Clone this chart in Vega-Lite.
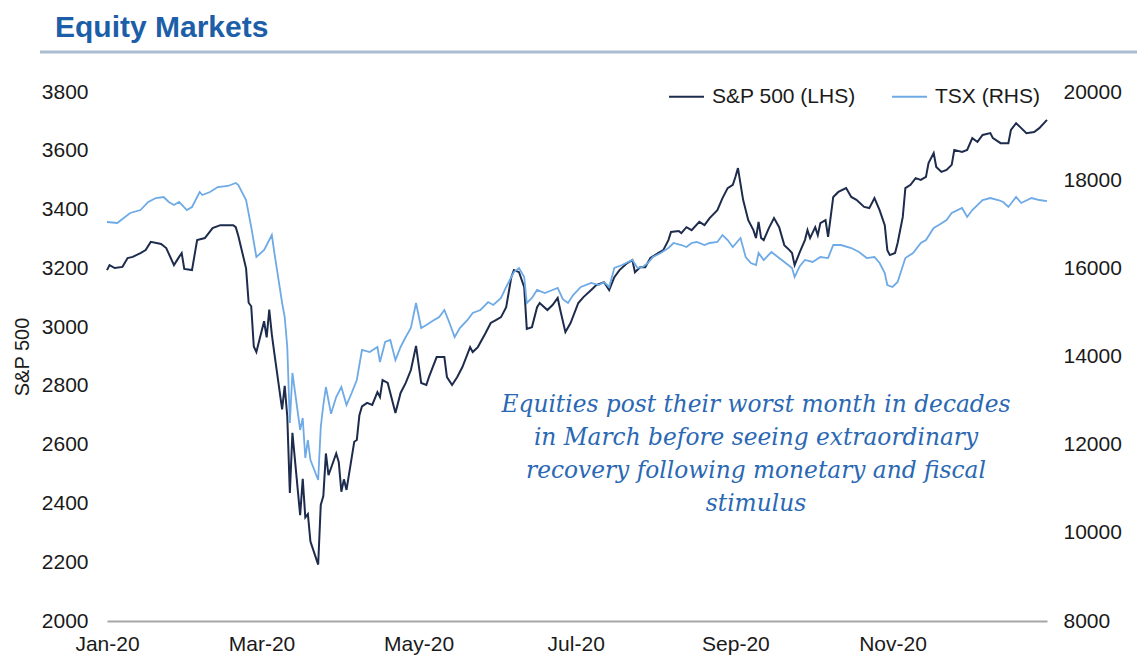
{
  "$schema": "https://vega.github.io/schema/vega-lite/v6.json",
  "width": 940,
  "height": 529,
  "autosize": {"type": "none"},
  "padding": {"left": 107, "top": 92, "right": 90, "bottom": 50},
  "background": "white",
  "config": {
    "view": {"stroke": null},
    "font": "Liberation Sans",
    "axis": {"grid": false, "ticks": false, "domain": false, "labelFont": "Liberation Sans", "labelFontSize": 21, "labelColor": "#1a1a1a", "titleFont": "Liberation Sans", "titleColor": "#1a1a1a"},
    "legend": {"labelFont": "Liberation Sans"}
  },
  "title": {"text": "Equity Markets", "anchor": "start", "frame": "group", "fontSize": 30, "fontWeight": "bold", "color": "#1c5fa8", "font": "Liberation Sans", "dx": -52, "offset": 8},
  "datasets": {
    "sp": [
      {"date":"2020-01-01","value":3194},{"date":"2020-01-02","value":3211},{"date":"2020-01-04","value":3201},{"date":"2020-01-07","value":3205},{"date":"2020-01-09","value":3235},{"date":"2020-01-11","value":3239},{"date":"2020-01-14","value":3252},{"date":"2020-01-16","value":3262},{"date":"2020-01-18","value":3290},{"date":"2020-01-22","value":3283},{"date":"2020-01-24","value":3269},{"date":"2020-01-27","value":3211},{"date":"2020-01-29","value":3239},{"date":"2020-01-30","value":3252},{"date":"2020-01-31","value":3198},{"date":"2020-02-03","value":3194},{"date":"2020-02-05","value":3296},{"date":"2020-02-08","value":3303},{"date":"2020-02-11","value":3337},{"date":"2020-02-14","value":3347},{"date":"2020-02-19","value":3347},{"date":"2020-02-20","value":3340},{"date":"2020-02-21","value":3310},{"date":"2020-02-24","value":3200},{"date":"2020-02-25","value":3083},{"date":"2020-02-26","value":3071},{"date":"2020-02-27","value":2934},{"date":"2020-02-28","value":2915},
      {"date":"2020-03-02","value":3020},{"date":"2020-03-03","value":2965},{"date":"2020-03-04","value":3060},{"date":"2020-03-05","value":2975},{"date":"2020-03-06","value":2910},{"date":"2020-03-09","value":2720},{"date":"2020-03-10","value":2800},{"date":"2020-03-11","value":2696},{"date":"2020-03-12","value":2436},{"date":"2020-03-13","value":2640},{"date":"2020-03-16","value":2360},{"date":"2020-03-17","value":2484},{"date":"2020-03-18","value":2353},{"date":"2020-03-19","value":2364},{"date":"2020-03-20","value":2270},{"date":"2020-03-23","value":2192},{"date":"2020-03-24","value":2395},{"date":"2020-03-25","value":2425},{"date":"2020-03-26","value":2570},{"date":"2020-03-27","value":2496},{"date":"2020-03-30","value":2570},{"date":"2020-03-31","value":2540},
      {"date":"2020-04-01","value":2440},{"date":"2020-04-02","value":2482},{"date":"2020-04-03","value":2446},{"date":"2020-04-06","value":2610},{"date":"2020-04-07","value":2616},{"date":"2020-04-08","value":2700},{"date":"2020-04-09","value":2730},{"date":"2020-04-11","value":2742},{"date":"2020-04-13","value":2735},{"date":"2020-04-15","value":2779},{"date":"2020-04-16","value":2762},{"date":"2020-04-17","value":2820},{"date":"2020-04-19","value":2810},{"date":"2020-04-22","value":2708},{"date":"2020-04-24","value":2776},{"date":"2020-04-26","value":2810},{"date":"2020-04-28","value":2854},{"date":"2020-04-30","value":2936},
      {"date":"2020-05-02","value":2810},{"date":"2020-05-04","value":2803},{"date":"2020-05-05","value":2830},{"date":"2020-05-08","value":2898},{"date":"2020-05-11","value":2898},{"date":"2020-05-12","value":2830},{"date":"2020-05-14","value":2803},{"date":"2020-05-16","value":2830},{"date":"2020-05-18","value":2864},{"date":"2020-05-21","value":2932},{"date":"2020-05-22","value":2915},{"date":"2020-05-24","value":2932},{"date":"2020-05-27","value":2980},{"date":"2020-05-29","value":3014},{"date":"2020-05-31","value":3024},
      {"date":"2020-06-02","value":3034},{"date":"2020-06-04","value":3068},{"date":"2020-06-06","value":3170},{"date":"2020-06-07","value":3194},{"date":"2020-06-09","value":3187},{"date":"2020-06-11","value":3136},{"date":"2020-06-12","value":2994},{"date":"2020-06-14","value":3000},{"date":"2020-06-16","value":3068},{"date":"2020-06-17","value":3082},{"date":"2020-06-20","value":3058},{"date":"2020-06-22","value":3075},{"date":"2020-06-24","value":3099},{"date":"2020-06-25","value":3058},{"date":"2020-06-27","value":2983},{"date":"2020-06-29","value":3014},
      {"date":"2020-07-02","value":3082},{"date":"2020-07-04","value":3102},{"date":"2020-07-07","value":3126},{"date":"2020-07-09","value":3143},{"date":"2020-07-12","value":3153},{"date":"2020-07-14","value":3126},{"date":"2020-07-16","value":3170},{"date":"2020-07-18","value":3194},{"date":"2020-07-21","value":3218},{"date":"2020-07-23","value":3228},{"date":"2020-07-24","value":3187},{"date":"2020-07-26","value":3204},{"date":"2020-07-28","value":3204},{"date":"2020-07-30","value":3235},
      {"date":"2020-08-02","value":3252},{"date":"2020-08-04","value":3262},{"date":"2020-08-06","value":3296},{"date":"2020-08-07","value":3324},{"date":"2020-08-10","value":3327},{"date":"2020-08-11","value":3320},{"date":"2020-08-13","value":3340},{"date":"2020-08-15","value":3330},{"date":"2020-08-18","value":3358},{"date":"2020-08-20","value":3347},{"date":"2020-08-22","value":3371},{"date":"2020-08-25","value":3398},{"date":"2020-08-27","value":3439},{"date":"2020-08-29","value":3473},{"date":"2020-08-31","value":3484},
      {"date":"2020-09-01","value":3511},{"date":"2020-09-02","value":3541},{"date":"2020-09-04","value":3433},{"date":"2020-09-06","value":3364},{"date":"2020-09-08","value":3330},{"date":"2020-09-09","value":3303},{"date":"2020-09-10","value":3358},{"date":"2020-09-11","value":3303},{"date":"2020-09-12","value":3296},{"date":"2020-09-14","value":3337},{"date":"2020-09-16","value":3371},{"date":"2020-09-18","value":3340},{"date":"2020-09-20","value":3279},{"date":"2020-09-22","value":3262},{"date":"2020-09-23","value":3252},{"date":"2020-09-24","value":3211},{"date":"2020-09-26","value":3255},{"date":"2020-09-28","value":3296},{"date":"2020-09-29","value":3330},{"date":"2020-09-30","value":3303},
      {"date":"2020-10-02","value":3340},{"date":"2020-10-03","value":3313},{"date":"2020-10-04","value":3354},{"date":"2020-10-06","value":3364},{"date":"2020-10-07","value":3307},{"date":"2020-10-09","value":3443},{"date":"2020-10-11","value":3460},{"date":"2020-10-14","value":3473},{"date":"2020-10-16","value":3443},{"date":"2020-10-18","value":3433},{"date":"2020-10-21","value":3409},{"date":"2020-10-23","value":3405},{"date":"2020-10-25","value":3439},{"date":"2020-10-27","value":3398},{"date":"2020-10-29","value":3347},{"date":"2020-10-30","value":3262},{"date":"2020-10-31","value":3245},
      {"date":"2020-11-02","value":3252},{"date":"2020-11-03","value":3286},{"date":"2020-11-05","value":3375},{"date":"2020-11-06","value":3473},{"date":"2020-11-08","value":3484},{"date":"2020-11-10","value":3507},{"date":"2020-11-12","value":3501},{"date":"2020-11-14","value":3511},{"date":"2020-11-15","value":3558},{"date":"2020-11-17","value":3592},{"date":"2020-11-18","value":3545},{"date":"2020-11-20","value":3528},{"date":"2020-11-22","value":3535},{"date":"2020-11-24","value":3552},{"date":"2020-11-25","value":3603},{"date":"2020-11-28","value":3596},{"date":"2020-11-30","value":3603},
      {"date":"2020-12-02","value":3643},{"date":"2020-12-04","value":3630},{"date":"2020-12-06","value":3654},{"date":"2020-12-09","value":3660},{"date":"2020-12-10","value":3643},{"date":"2020-12-13","value":3626},{"date":"2020-12-16","value":3626},{"date":"2020-12-17","value":3671},{"date":"2020-12-19","value":3694},{"date":"2020-12-21","value":3677},{"date":"2020-12-23","value":3660},{"date":"2020-12-26","value":3664},{"date":"2020-12-28","value":3677},{"date":"2020-12-31","value":3705}
    ],
    "tsx": [
      {"date":"2020-01-01","value":17051},{"date":"2020-01-05","value":17028},{"date":"2020-01-07","value":17119},{"date":"2020-01-10","value":17255},{"date":"2020-01-14","value":17323},{"date":"2020-01-17","value":17505},{"date":"2020-01-20","value":17595},{"date":"2020-01-23","value":17618},{"date":"2020-01-25","value":17505},{"date":"2020-01-27","value":17437},{"date":"2020-01-29","value":17505},{"date":"2020-02-01","value":17323},{"date":"2020-02-03","value":17391},{"date":"2020-02-06","value":17732},{"date":"2020-02-07","value":17664},{"date":"2020-02-10","value":17732},{"date":"2020-02-13","value":17845},{"date":"2020-02-17","value":17868},{"date":"2020-02-20","value":17936},{"date":"2020-02-21","value":17890},{"date":"2020-02-24","value":17550},{"date":"2020-02-26","value":16938},{"date":"2020-02-28","value":16257},
      {"date":"2020-03-02","value":16416},{"date":"2020-03-03","value":16529},{"date":"2020-03-05","value":16756},{"date":"2020-03-06","value":16348},{"date":"2020-03-09","value":15214},{"date":"2020-03-10","value":14896},{"date":"2020-03-11","value":14216},{"date":"2020-03-12","value":12492},{"date":"2020-03-13","value":13626},{"date":"2020-03-16","value":12333},{"date":"2020-03-17","value":12605},{"date":"2020-03-18","value":11698},{"date":"2020-03-19","value":12106},{"date":"2020-03-20","value":11652},{"date":"2020-03-23","value":11198},{"date":"2020-03-24","value":12401},{"date":"2020-03-25","value":12900},{"date":"2020-03-26","value":13308},{"date":"2020-03-28","value":12700},{"date":"2020-03-30","value":13081},
      {"date":"2020-04-01","value":13308},{"date":"2020-04-03","value":12900},{"date":"2020-04-05","value":13172},{"date":"2020-04-07","value":13467},{"date":"2020-04-09","value":14148},{"date":"2020-04-12","value":14102},{"date":"2020-04-15","value":14216},{"date":"2020-04-16","value":13875},{"date":"2020-04-18","value":14329},{"date":"2020-04-20","value":14374},{"date":"2020-04-22","value":13920},{"date":"2020-04-24","value":14216},{"date":"2020-04-26","value":14442},{"date":"2020-04-28","value":14646},{"date":"2020-04-30","value":15214},
      {"date":"2020-05-02","value":14646},{"date":"2020-05-04","value":14715},{"date":"2020-05-07","value":14828},{"date":"2020-05-09","value":14896},{"date":"2020-05-11","value":15055},{"date":"2020-05-13","value":14760},{"date":"2020-05-15","value":14442},{"date":"2020-05-17","value":14646},{"date":"2020-05-20","value":14828},{"date":"2020-05-22","value":14987},{"date":"2020-05-25","value":15055},{"date":"2020-05-28","value":15236},{"date":"2020-05-30","value":15168},
      {"date":"2020-06-02","value":15327},{"date":"2020-06-04","value":15577},{"date":"2020-06-06","value":15803},{"date":"2020-06-07","value":15917},{"date":"2020-06-09","value":16008},{"date":"2020-06-11","value":15803},{"date":"2020-06-12","value":15214},{"date":"2020-06-14","value":15327},{"date":"2020-06-16","value":15509},{"date":"2020-06-19","value":15441},{"date":"2020-06-22","value":15509},{"date":"2020-06-24","value":15554},{"date":"2020-06-26","value":15300},{"date":"2020-06-28","value":15214},{"date":"2020-06-30","value":15395},
      {"date":"2020-07-03","value":15577},{"date":"2020-07-07","value":15668},{"date":"2020-07-10","value":15622},{"date":"2020-07-12","value":15690},{"date":"2020-07-14","value":15577},{"date":"2020-07-16","value":16008},{"date":"2020-07-19","value":16076},{"date":"2020-07-23","value":16189},{"date":"2020-07-25","value":16008},{"date":"2020-07-27","value":16030},{"date":"2020-07-29","value":16121},{"date":"2020-07-31","value":16257},
      {"date":"2020-08-03","value":16348},{"date":"2020-08-06","value":16461},{"date":"2020-08-08","value":16575},{"date":"2020-08-11","value":16529},{"date":"2020-08-13","value":16484},{"date":"2020-08-15","value":16575},{"date":"2020-08-17","value":16597},{"date":"2020-08-20","value":16529},{"date":"2020-08-22","value":16575},{"date":"2020-08-25","value":16597},{"date":"2020-08-27","value":16756},{"date":"2020-08-29","value":16643},{"date":"2020-08-31","value":16484},
      {"date":"2020-09-03","value":16688},{"date":"2020-09-05","value":16257},{"date":"2020-09-07","value":16121},{"date":"2020-09-09","value":16076},{"date":"2020-09-10","value":16348},{"date":"2020-09-12","value":16189},{"date":"2020-09-15","value":16370},{"date":"2020-09-19","value":16189},{"date":"2020-09-23","value":16008},{"date":"2020-09-24","value":15803},{"date":"2020-09-26","value":16050},{"date":"2020-09-28","value":16189},
      {"date":"2020-10-01","value":16144},{"date":"2020-10-04","value":16257},{"date":"2020-10-07","value":16234},{"date":"2020-10-09","value":16529},{"date":"2020-10-12","value":16529},{"date":"2020-10-16","value":16461},{"date":"2020-10-19","value":16370},{"date":"2020-10-22","value":16234},{"date":"2020-10-25","value":16257},{"date":"2020-10-27","value":16121},{"date":"2020-10-29","value":15894},{"date":"2020-10-30","value":15622},
      {"date":"2020-11-01","value":15577},{"date":"2020-11-03","value":15690},{"date":"2020-11-06","value":16234},{"date":"2020-11-09","value":16348},{"date":"2020-11-12","value":16575},{"date":"2020-11-14","value":16643},{"date":"2020-11-17","value":16915},{"date":"2020-11-19","value":16983},{"date":"2020-11-22","value":17096},{"date":"2020-11-24","value":17255},{"date":"2020-11-28","value":17369},{"date":"2020-11-30","value":17165},
      {"date":"2020-12-02","value":17323},{"date":"2020-12-06","value":17550},{"date":"2020-12-09","value":17595},{"date":"2020-12-12","value":17550},{"date":"2020-12-14","value":17505},{"date":"2020-12-16","value":17391},{"date":"2020-12-19","value":17618},{"date":"2020-12-21","value":17482},{"date":"2020-12-25","value":17595},{"date":"2020-12-28","value":17550},{"date":"2020-12-31","value":17527}
    ]
  },
  "layer": [
    {
      "layer": [
        {
          "data": {"name": "sp"},
          "mark": {"type": "line", "strokeWidth": 2},
          "encoding": {
            "x": {"field": "date", "type": "temporal",
              "scale": {"type": "utc", "domain": [{"year": 2020, "month": 1, "date": 1, "utc": true}, {"year": 2020, "month": 12, "date": 31, "utc": true}]},
              "axis": {"title": null, "format": "%b-%y", "labelFlush": false, "labelOverlap": false, "labelPadding": 12, "domain": true, "domainColor": "#a6a6a6", "domainWidth": 2,
                "values": [{"year": 2020, "month": 1, "date": 1, "utc": true}, {"year": 2020, "month": 3, "date": 1, "utc": true}, {"year": 2020, "month": 5, "date": 1, "utc": true}, {"year": 2020, "month": 7, "date": 1, "utc": true}, {"year": 2020, "month": 9, "date": 1, "utc": true}, {"year": 2020, "month": 11, "date": 1, "utc": true}]}},
            "y": {"field": "value", "type": "quantitative",
              "scale": {"domain": [2000, 3800], "nice": false, "zero": false},
              "axis": {"orient": "left", "format": "d", "title": "S&P 500", "titleFontSize": 20, "titleFontWeight": "normal", "titlePadding": 9, "labelPadding": 19,
                "values": [2000, 2200, 2400, 2600, 2800, 3000, 3200, 3400, 3600, 3800]}},
            "color": {"datum": "S&P 500 (LHS)", "type": "nominal",
              "scale": {"domain": ["S&P 500 (LHS)", "TSX (RHS)"], "range": ["#1d2b4c", "#6eaae6"]},
              "legend": {"orient": "none", "legendX": 561, "legendY": -14, "direction": "horizontal", "title": null, "symbolType": "stroke", "symbolStrokeWidth": 2, "symbolSize": 1225, "labelFontSize": 21, "labelColor": "#1a1a1a", "labelOffset": 7, "columnPadding": 32}}
          }
        },
        {
          "data": {"values": [{}]},
          "mark": {"type": "rule", "stroke": "#a9bcd0", "strokeWidth": 3},
          "encoding": {
            "x": {"datum": {"year": 2019, "month": 12, "date": 6, "utc": true}, "type": "temporal"},
            "x2": {"datum": {"year": 2021, "month": 2, "date": 4, "utc": true}},
            "y": {"datum": 3936, "type": "quantitative"}
          }
        },
        {
          "data": {"values": [{}]},
          "mark": {"type": "text", "text": ["Equities post their worst month in decades", "in March before seeing extraordinary", "recovery following monetary and fiscal", "stimulus"], "font": "DejaVu Serif", "fontStyle": "italic", "fontSize": 23.3, "lineHeight": 33, "align": "center", "baseline": "middle", "color": "#2a68b3"},
          "encoding": {
            "x": {"datum": {"year": 2020, "month": 9, "date": 9, "utc": true}, "type": "temporal"},
            "y": {"datum": 2735, "type": "quantitative"}
          }
        }
      ]
    },
    {
      "data": {"name": "tsx"},
      "mark": {"type": "line", "strokeWidth": 1.8},
      "encoding": {
        "x": {"field": "date", "type": "temporal"},
        "y": {"field": "value", "type": "quantitative",
          "scale": {"domain": [8000, 20000], "nice": false, "zero": false},
          "axis": {"orient": "right", "format": "d", "title": null, "labelPadding": 16, "values": [8000, 10000, 12000, 14000, 16000, 18000, 20000]}},
        "color": {"datum": "TSX (RHS)", "type": "nominal"}
      }
    }
  ],
  "resolve": {"scale": {"y": "independent"}}
}
